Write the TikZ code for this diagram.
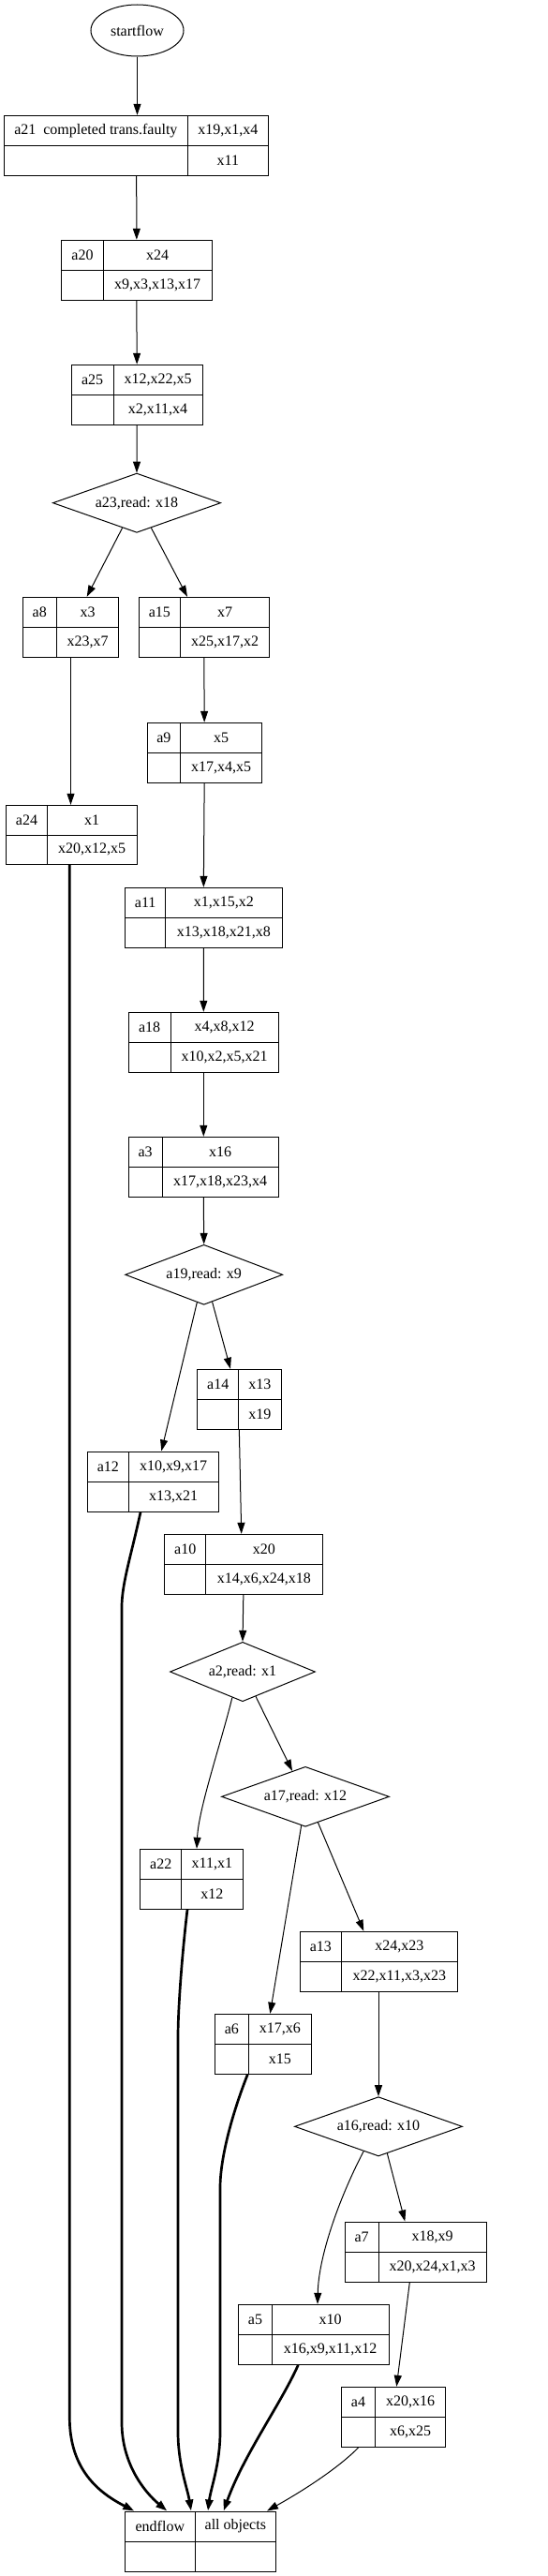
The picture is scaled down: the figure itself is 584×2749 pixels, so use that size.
\documentclass[tikz,border=0pt]{standalone}
\usepackage{fontspec}
\setmainfont{Liberation Serif}
\usetikzlibrary{shapes.geometric,arrows.meta,fit}
\newcommand{\rec}[9]{%
  \node[fit={(#2,#3) (#4,#5)}, draw, inner sep=0pt, rectangle] (#1) {};
  \draw (#6,#3) -- (#6,#5) (#2,{(#3+#5)/2}) -- (#4,{(#3+#5)/2});
  \node[txt] at ({(#2+#6)/2},{(3*#3+#5)/4}) {#7};
  \node[txt] at ({(#6+#4)/2},{(3*#3+#5)/4}) {#8};
  \node[txt] at ({(#6+#4)/2},{(#3+3*#5)/4}) {#9};
}
\tikzset{
  txt/.style={inner sep=0pt, anchor=center},
  edge/.style={-{Triangle[length=12pt,width=8pt]}, line width=1pt},
  thickedge/.style={edge, line width=2.7pt},
  dia/.style={diamond, draw, shape aspect=2.8, inner sep=0pt},
}
\begin{document}
\begin{tikzpicture}[x=1pt, y=-1pt, line width=1pt, font=\fontsize{16}{19}\selectfont]
\useasboundingbox (0,0) rectangle (584,2749);
\node[ellipse, draw, minimum width=99pt, minimum height=55pt, inner sep=0pt] (start) at (146.5,32.5) {startflow};
\rec{a21}{4.7}{123.3}{286.7}{187.3}{200}{a21\ \ completed trans.faulty}{x19,x1,x4}{x11}
\rec{a20}{65.7}{256.3}{226}{320}{110.3}{a20}{x24}{x9,x3,x13,x17}
\rec{a25}{76.3}{389.3}{216}{453}{121}{a25}{x12,x22,x5}{x2,x11,x4}
\node[dia, minimum width=179.3pt, minimum height=63.3pt] (a23) at (146,536.7) {a23,read: x18};
\rec{a8}{24.3}{637.3}{126.7}{701.3}{60.3}{a8}{x3}{x23,x7}
\rec{a15}{148}{637.3}{287.7}{701.3}{192.7}{a15}{x7}{x25,x17,x2}
\rec{a9}{157}{771.3}{279.3}{835}{192.7}{a9}{x5}{x17,x4,x5}
\rec{a24}{6.7}{859.3}{146}{922.7}{50.3}{a24}{x1}{x20,x12,x5}
\rec{a11}{133.7}{947.3}{301}{1011.3}{176.7}{a11}{x1,x15,x2}{x13,x18,x21,x8}
\rec{a18}{137.3}{1080.3}{297.3}{1144.3}{182}{a18}{x4,x8,x12}{x10,x2,x5,x21}
\rec{a3}{137.3}{1213.3}{297.3}{1277.3}{173}{a3}{x16}{x17,x18,x23,x4}
\node[dia, minimum width=168pt, minimum height=64pt] (a19) at (217.7,1360.3) {a19,read: x9};
\rec{a14}{210.7}{1461.3}{300}{1525.3}{254.7}{a14}{x13}{x19}
\rec{a12}{93.3}{1549}{233}{1613.3}{137.3}{a12}{x10,x9,x17}{x13,x21}
\rec{a10}{175.7}{1637.3}{344}{1701.3}{219.7}{a10}{x20}{x14,x6,x24,x18}
\node[dia, minimum width=155pt, minimum height=63.4pt] (a2) at (259,1784) {a2,read: x1};
\node[dia, minimum width=179pt, minimum height=64pt] (a17) at (326,1917.3) {a17,read: x12};
\rec{a22}{149.7}{1973.3}{259}{2037.3}{193.7}{a22}{x11,x1}{x12}
\rec{a13}{320}{2061.3}{488}{2125.3}{364.7}{a13}{x24,x23}{x22,x11,x3,x23}
\rec{a6}{229.3}{2149.3}{332.3}{2213.3}{265.3}{a6}{x17,x6}{x15}
\node[dia, minimum width=179pt, minimum height=63.3pt] (a16) at (404,2269.3) {a16,read: x10};
\rec{a7}{368.3}{2371}{519.3}{2435.3}{404}{a7}{x18,x9}{x20,x24,x1,x3}
\rec{a5}{254.7}{2459.3}{415}{2523.3}{290.3}{a5}{x10}{x16,x9,x11,x12}
\rec{a4}{364.7}{2547.3}{475.7}{2611.3}{400.3}{a4}{x20,x16}{x6,x25}
\rec{endf}{133.7}{2680}{294.7}{2744}{208}{endflow}{all objects}{}
% edges
\draw[edge] (start.south) -- (start.south |- a21.north);
\draw[edge] (a21.south) -- (a20.north);
\draw[edge] (a20.south) -- (a25.north);
\draw[edge] (a25.south) -- (a23.north);
\draw[edge] (a23.-120) -- (a8.north -| 92.7,0);
\draw[edge] (a23.-60) -- (a15.north -| 200,0);
\draw[edge] (a8.south) -- (a8.south |- a24.north);
\draw[edge] (a15.south) -- (a9.north);
\draw[edge] (a9.south) -- (a11.north);
\draw[edge] (a11.south) -- (a18.north);
\draw[edge] (a18.south) -- (a3.north);
\draw[edge] (a3.south) -- (a19.north);
\draw[edge] (a19.-104) -- (a12.north -| 172.3,0);
\draw[edge] (a19.-73) -- (a14.north -| 246,0);
\draw[edge] (a14.south) -- (a10.north -| 257.7,0);
\draw[edge] (a10.south) -- (a2.north);
\draw[edge] (a2.-112) .. controls (236,1860) and (212,1930) .. (a22.north -| 210,0);
\draw[edge] (a2.-62) -- (a17.117);
\draw[edge] (a17.-98) -- (a6.north -| 288.3,0);
\draw[edge] (a17.-64) -- (a13.north -| 388.3,0);
\draw[edge] (a13.south) -- (a16.north);
\draw[edge] (a16.-72) -- (a7.north -| 432.3,0);
\draw[edge] (a16.-121) .. controls (360,2350) and (340,2410) .. (a5.north -| 339,0);
\draw[edge] (a7.south -| 437.3,0) -- (a4.north -| 423.3,0);
\draw[thickedge] (a24.south -| 74.3,0) -- (74.3,2580) .. controls (74.3,2635) and (105,2660) .. (endf.north -| 143.3,0);
\draw[thickedge] (a12.south -| 150,0) .. controls (140,1660) and (130,1690) .. (130,1715) -- (130,2585) .. controls (130,2630) and (155,2660) .. (endf.north -| 178.3,0);
\draw[thickedge] (a22.south -| 200,0) .. controls (195,2080) and (190,2140) .. (190,2175) -- (190,2595) .. controls (190,2630) and (200,2655) .. (endf.north -| 204,0);
\draw[thickedge] (a6.south -| 264.3,0) .. controls (250,2250) and (235,2300) .. (235,2335) -- (235,2595) .. controls (235,2630) and (225,2655) .. (endf.north -| 222,0);
\draw[thickedge] (a5.south -| 318.3,0) .. controls (300,2565) and (260,2620) .. (endf.north -| 238.7,0);
\draw[edge] (a4.south -| 382.7,0) .. controls (360,2635) and (320,2660) .. (endf.north -| 285,0);
\end{tikzpicture}
\end{document}
